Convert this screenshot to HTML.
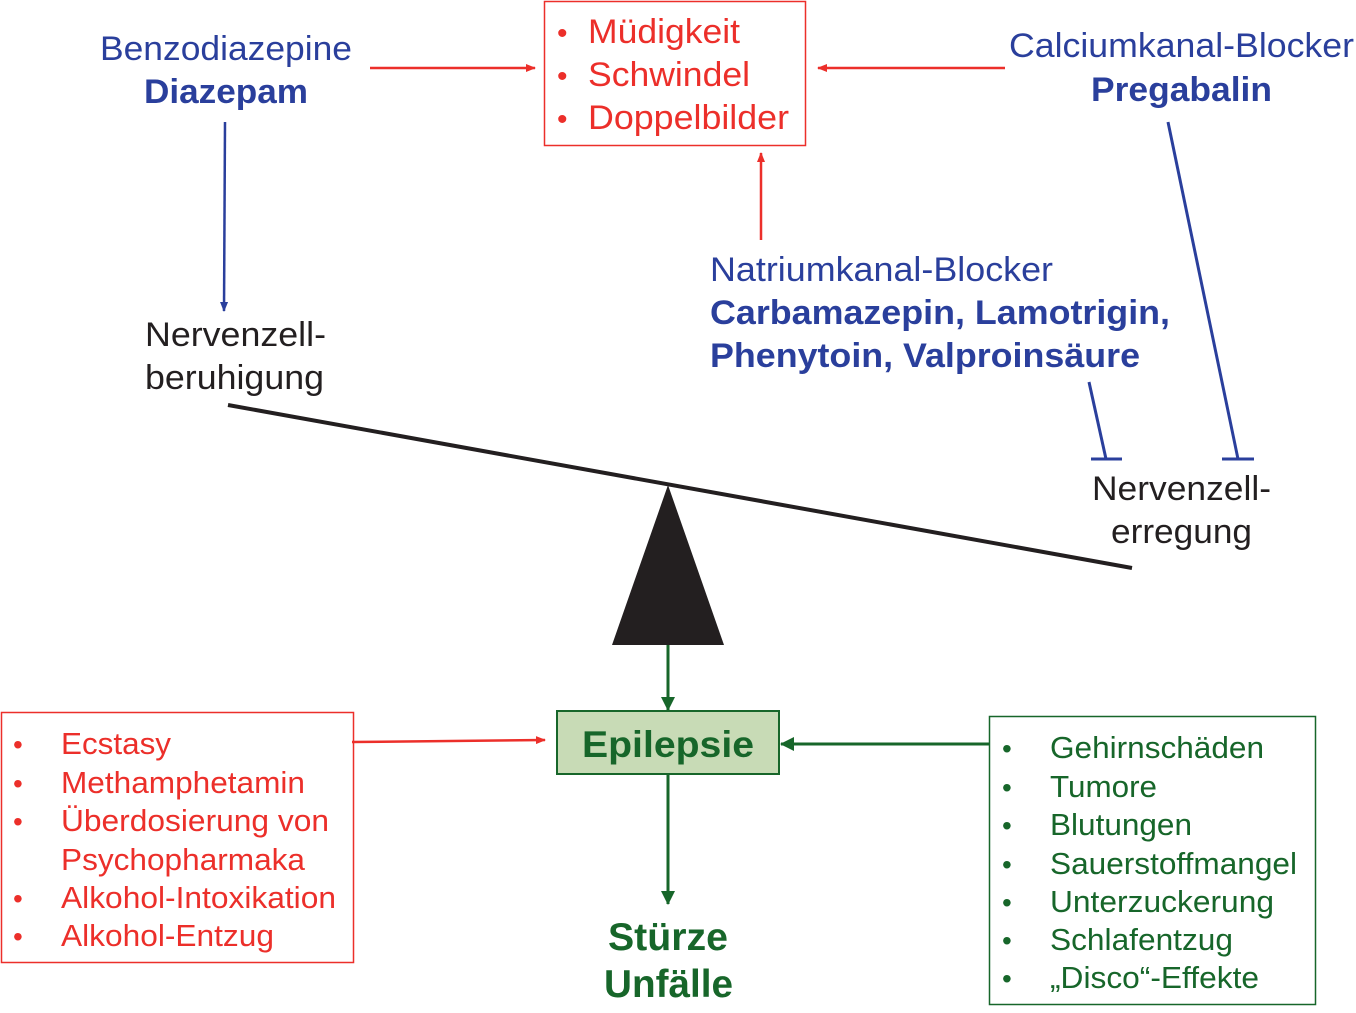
<!DOCTYPE html>
<html><head><meta charset="utf-8"><style>
html,body{margin:0;padding:0;background:#fff;width:1356px;height:1013px;overflow:hidden}
svg{display:block}
text{font-family:"Liberation Sans",Arial,sans-serif}
.b{fill:#2a3f9c}.r{fill:#ec2f2a}.g{fill:#17662a}.k{fill:#231f20}
</style></head><body>
<svg width="1356" height="1013" viewBox="0 0 1356 1013" xmlns="http://www.w3.org/2000/svg">
<defs>
<marker id="ar" markerWidth="10" markerHeight="8" refX="9" refY="4" orient="auto" markerUnits="userSpaceOnUse"><path d="M0,0 L10,4 L0,8 z" fill="#ec2f2a"/></marker>
<marker id="ab" markerWidth="10" markerHeight="8" refX="9" refY="4" orient="auto" markerUnits="userSpaceOnUse"><path d="M0,0 L10,4 L0,8 z" fill="#2a3f9c"/></marker>
<marker id="ag" markerWidth="14" markerHeight="14" refX="13" refY="7" orient="auto" markerUnits="userSpaceOnUse"><path d="M0,0 L14,7 L0,14 z" fill="#17662a"/></marker>
</defs>

<g lengthAdjust="spacingAndGlyphs">
<text x="100" y="60" font-size="34" class="b" textLength="252" lengthAdjust="spacingAndGlyphs">Benzodiazepine</text>
<text x="144" y="103" font-size="34" font-weight="bold" class="b" textLength="164" lengthAdjust="spacingAndGlyphs">Diazepam</text>
<text x="1009" y="57" font-size="34" class="b" textLength="345" lengthAdjust="spacingAndGlyphs">Calciumkanal-Blocker</text>
<text x="1091" y="101" font-size="34" font-weight="bold" class="b" textLength="181" lengthAdjust="spacingAndGlyphs">Pregabalin</text>

<rect x="544.5" y="1.5" width="261" height="144" fill="none" stroke="#ec2f2a" stroke-width="1.5"/>
<g font-size="34" class="r">
<text x="557" y="43" font-size="30">•</text><text x="588" y="43" textLength="152" lengthAdjust="spacingAndGlyphs">Müdigkeit</text>
<text x="557" y="86" font-size="30">•</text><text x="588" y="86" textLength="162" lengthAdjust="spacingAndGlyphs">Schwindel</text>
<text x="557" y="129" font-size="30">•</text><text x="588" y="129" textLength="201" lengthAdjust="spacingAndGlyphs">Doppelbilder</text>
</g>
<line x1="370" y1="68" x2="535" y2="68" stroke="#ec2f2a" stroke-width="2.5" marker-end="url(#ar)"/>
<line x1="1005" y1="68" x2="818" y2="68" stroke="#ec2f2a" stroke-width="2.5" marker-end="url(#ar)"/>
<line x1="761" y1="240" x2="761" y2="153" stroke="#ec2f2a" stroke-width="2.5" marker-end="url(#ar)"/>
<line x1="225" y1="122" x2="224" y2="311" stroke="#2a3f9c" stroke-width="2.5" marker-end="url(#ab)"/>

<text x="710" y="281" font-size="34" class="b" textLength="343" lengthAdjust="spacingAndGlyphs">Natriumkanal-Blocker</text>
<text x="710" y="324" font-size="34" font-weight="bold" class="b" textLength="460" lengthAdjust="spacingAndGlyphs">Carbamazepin, Lamotrigin,</text>
<text x="710" y="367" font-size="34" font-weight="bold" class="b" textLength="430" lengthAdjust="spacingAndGlyphs">Phenytoin, Valproinsäure</text>

<line x1="1168" y1="122" x2="1238" y2="459" stroke="#2a3f9c" stroke-width="3"/>
<line x1="1222" y1="459" x2="1254" y2="459" stroke="#2a3f9c" stroke-width="3"/>
<line x1="1089" y1="382" x2="1106" y2="459" stroke="#2a3f9c" stroke-width="3"/>
<line x1="1091" y1="459" x2="1122" y2="459" stroke="#2a3f9c" stroke-width="3"/>

<text x="145" y="346" font-size="34" class="k" textLength="181" lengthAdjust="spacingAndGlyphs">Nervenzell-</text>
<text x="145" y="389" font-size="34" class="k" textLength="179" lengthAdjust="spacingAndGlyphs">beruhigung</text>
<text x="1092" y="500" font-size="34" class="k" textLength="179" lengthAdjust="spacingAndGlyphs">Nervenzell-</text>
<text x="1111" y="543" font-size="34" class="k" textLength="141" lengthAdjust="spacingAndGlyphs">erregung</text>

<line x1="228" y1="405" x2="1132" y2="568" stroke="#231f20" stroke-width="4"/>
<polygon points="668,485 612,645 724,645" fill="#231f20"/>

<line x1="668" y1="645" x2="668" y2="710" stroke="#17662a" stroke-width="3" marker-end="url(#ag)"/>
<rect x="557" y="711" width="222" height="63" fill="#c8dbb6" stroke="#17662a" stroke-width="2"/>
<text x="582" y="757" font-size="37" font-weight="bold" class="g" textLength="172" lengthAdjust="spacingAndGlyphs">Epilepsie</text>
<line x1="668" y1="774" x2="668" y2="904" stroke="#17662a" stroke-width="3" marker-end="url(#ag)"/>
<line x1="989" y1="744" x2="781" y2="744" stroke="#17662a" stroke-width="3" marker-end="url(#ag)"/>
<line x1="352" y1="742" x2="545" y2="740" stroke="#ec2f2a" stroke-width="2.5" marker-end="url(#ar)"/>

<text x="608" y="950" font-size="39" font-weight="bold" class="g" textLength="120" lengthAdjust="spacingAndGlyphs">Stürze</text>
<text x="604" y="997" font-size="39" font-weight="bold" class="g" textLength="129" lengthAdjust="spacingAndGlyphs">Unfälle</text>

<rect x="1.5" y="712.5" width="352" height="250" fill="none" stroke="#ec2f2a" stroke-width="1.5"/>
<g font-size="31" class="r">
<text x="13" y="754" font-size="28">•</text><text x="61" y="754" textLength="110" lengthAdjust="spacingAndGlyphs">Ecstasy</text>
<text x="13" y="793" font-size="28">•</text><text x="61" y="793" textLength="244" lengthAdjust="spacingAndGlyphs">Methamphetamin</text>
<text x="13" y="831" font-size="28">•</text><text x="61" y="831" textLength="268" lengthAdjust="spacingAndGlyphs">Überdosierung von</text>
<text x="61" y="870" textLength="244" lengthAdjust="spacingAndGlyphs">Psychopharmaka</text>
<text x="13" y="908" font-size="28">•</text><text x="61" y="908" textLength="275" lengthAdjust="spacingAndGlyphs">Alkohol-Intoxikation</text>
<text x="13" y="946" font-size="28">•</text><text x="61" y="946" textLength="213" lengthAdjust="spacingAndGlyphs">Alkohol-Entzug</text>
</g>

<rect x="989.5" y="716.5" width="326" height="288" fill="none" stroke="#17662a" stroke-width="1.5"/>
<g font-size="31" class="g">
<text x="1002" y="758" font-size="28">•</text><text x="1050" y="758" textLength="214" lengthAdjust="spacingAndGlyphs">Gehirnschäden</text>
<text x="1002" y="797" font-size="28">•</text><text x="1050" y="797" textLength="107" lengthAdjust="spacingAndGlyphs">Tumore</text>
<text x="1002" y="835" font-size="28">•</text><text x="1050" y="835" textLength="142" lengthAdjust="spacingAndGlyphs">Blutungen</text>
<text x="1002" y="874" font-size="28">•</text><text x="1050" y="874" textLength="247" lengthAdjust="spacingAndGlyphs">Sauerstoffmangel</text>
<text x="1002" y="912" font-size="28">•</text><text x="1050" y="912" textLength="224" lengthAdjust="spacingAndGlyphs">Unterzuckerung</text>
<text x="1002" y="950" font-size="28">•</text><text x="1050" y="950" textLength="183" lengthAdjust="spacingAndGlyphs">Schlafentzug</text>
<text x="1002" y="988" font-size="28">•</text><text x="1050" y="988" textLength="209" lengthAdjust="spacingAndGlyphs">„Disco“-Effekte</text>
</g>
</g>
</svg>
</body></html>
